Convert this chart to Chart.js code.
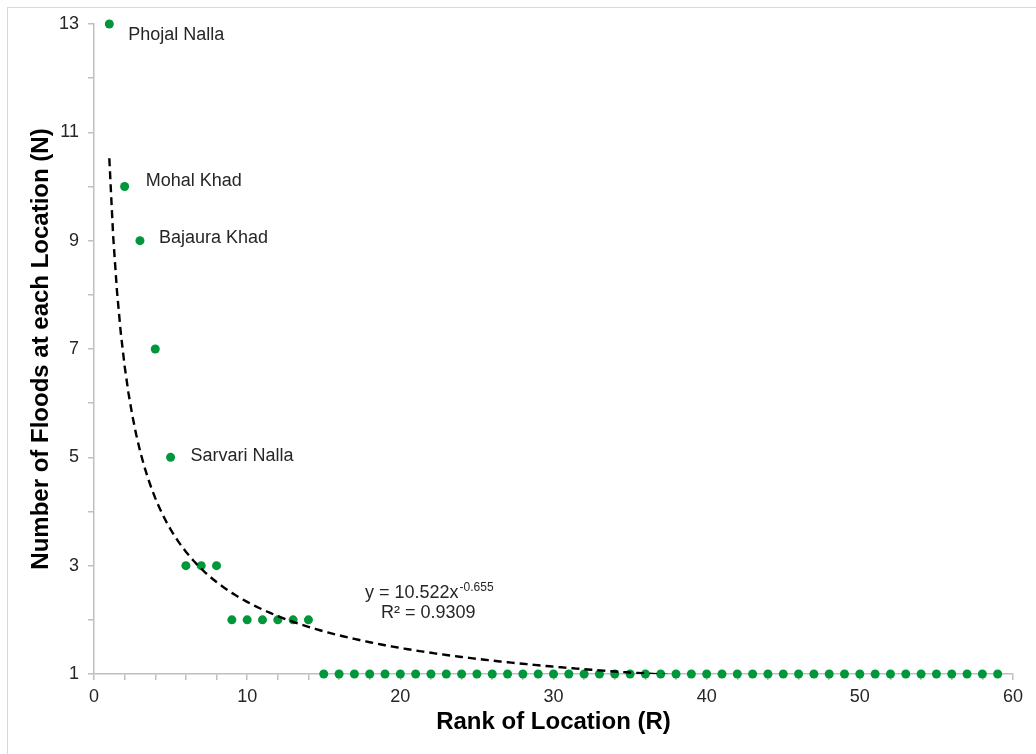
<!DOCTYPE html>
<html>
<head>
<meta charset="utf-8">
<script src="https://cdn.jsdelivr.net/npm/chart.js@4.4.1/dist/chart.umd.min.js"></script>
<style>
  html, body { margin: 0; padding: 0; background: #ffffff; overflow: hidden; }
  #frame { position: absolute; left: 7px; top: 7px; width: 1200px; height: 900px; border: 1.5px solid #d9d9d9; box-sizing: border-box; }
  #wrap { position: absolute; left: 0; top: 0; width: 1036px; height: 754px; }
</style>
</head>
<body>
<div id="frame"></div>
<div id="wrap"><canvas id="c" width="1036" height="754"></canvas></div>
<script>
// ---- data ----
const ranks = [1,2,3,4,5,6,7,8,9,10,11,12,13,14,15,16,17,18,19,20,21,22,23,24,25,26,27,28,29,30,
               31,32,33,34,35,36,37,38,39,40,41,42,43,44,45,46,47,48,49,50,51,52,53,54,55,56,57,58,59];
const floods = [13,10,9,7,5,3,3,3,2,2,2,2,2,2,1,1,1,1,1,1,1,1,1,1,1,1,1,1,1,1,
                1,1,1,1,1,1,1,1,1,1,1,1,1,1,1,1,1,1,1,1,1,1,1,1,1,1,1,1,1];
const labelIndex = [0, 1, 2, 4];
const labelNames = ["Phojal Nalla", "Mohal Khad", "Bajaura Khad", "Sarvari Nalla"];
const eqText = "y = 10.522x";
const eqExp = "-0.655";
const r2Text = "R\u00B2 = 0.9309";
const xTitle = "Rank of Location (R)";
const yTitle = "Number of Floods at each Location (N)";

// power-law least-squares fit on the data (ln y = ln a + b ln x)
function powerFit(xs, ys) {
  const n = xs.length;
  let sx = 0, sy = 0, sxx = 0, sxy = 0;
  for (let i = 0; i < n; i++) {
    const lx = Math.log(xs[i]), ly = Math.log(ys[i]);
    sx += lx; sy += ly; sxx += lx * lx; sxy += lx * ly;
  }
  const b = (n * sxy - sx * sy) / (n * sxx - sx * sx);
  const a = Math.exp((sy - b * sx) / n);
  return { a, b };
}
const fit = powerFit(ranks, floods);
const trend = [];
for (let x = ranks[0]; x <= ranks[ranks.length - 1] + 1e-9; x += 0.25) {
  trend.push({ x: x, y: fit.a * Math.pow(x, fit.b) });
}
const points = ranks.map((r, i) => ({ x: r, y: floods[i] }));

const FONT = "'Liberation Sans', Arial, sans-serif";
const GREEN = '#00963a';
const AXIS = '#bfbfbf';

const labelsPlugin = {
  id: 'pointLabels',
  afterDatasetsDraw(chart) {
    const ctx = chart.ctx;
    const xs = chart.scales.x, ys = chart.scales.y;
    ctx.save();
    ctx.fillStyle = '#262626';
    ctx.font = '18px ' + FONT;
    ctx.textBaseline = 'middle';
    ctx.textAlign = 'left';
    const offs = [[19, 11], [21, -5], [19, -3], [20, -1]];
    labelIndex.forEach((idx, k) => {
      const px = xs.getPixelForValue(ranks[idx]);
      const py = ys.getPixelForValue(floods[idx]);
      ctx.fillText(labelNames[k], px + offs[k][0], py + offs[k][1]);
    });
    // trendline equation
    const ca = chart.chartArea;
    const ex = ca.left + 271, ey = ca.top + 569;
    ctx.fillText(eqText, ex, ey);
    const w = ctx.measureText(eqText).width;
    ctx.font = '12px ' + FONT;
    ctx.fillText(eqExp, ex + w + 1, ey - 5);
    ctx.font = '18px ' + FONT;
    ctx.fillText(r2Text, ca.left + 287, ca.top + 589);
    ctx.restore();
  }
};

new Chart(document.getElementById('c'), {
  type: 'scatter',
  data: {
    datasets: [
      {
        type: 'line',
        data: trend,
        borderColor: '#000000',
        borderWidth: 2.4,
        borderDash: [8, 5],
        pointRadius: 0,
        fill: false,
        tension: 0,
        order: 0
      },
      {
        data: points,
        backgroundColor: GREEN,
        borderColor: GREEN,
        borderWidth: 0,
        pointRadius: 4.5,
        pointHoverRadius: 4.5,
        clip: false,
        order: 1
      }
    ]
  },
  options: {
    responsive: false,
    animation: false,
    devicePixelRatio: 1,
    layout: { padding: { left: 0, right: 23, top: 24, bottom: 0 } },
    plugins: { legend: { display: false }, tooltip: { enabled: false } },
    scales: {
      x: {
        type: 'linear',
        min: 0, max: 60,
        afterFit: s => { s.height = 80; },
        border: { color: AXIS, width: 1.5 },
        grid: { drawOnChartArea: false, drawTicks: true, tickLength: 6, color: AXIS, lineWidth: 1.5 },
        ticks: {
          stepSize: 2, autoSkip: false, maxRotation: 0, padding: 6,
          color: '#262626', font: { family: FONT, size: 18 },
          callback: v => (v % 10 === 0 ? String(v) : '')
        },
        title: {
          display: true, text: xTitle, color: '#000000',
          font: { family: FONT, size: 24, weight: 'bold', lineHeight: 1.2 },
          padding: { top: 0, bottom: 17 }
        }
      },
      y: {
        type: 'linear',
        min: 1, max: 13,
        afterFit: s => { s.width = 94; },
        border: { color: AXIS, width: 1.5 },
        grid: { drawOnChartArea: false, drawTicks: true, tickLength: 6, color: AXIS, lineWidth: 1.5 },
        ticks: {
          stepSize: 1, autoSkip: false, padding: 9,
          color: '#262626', font: { family: FONT, size: 18 },
          callback: v => (v % 2 === 1 ? String(v) : '')
        },
        title: {
          display: true, text: yTitle, color: '#000000',
          font: { family: FONT, size: 24, weight: 'bold', lineHeight: 1.2 },
          padding: { top: 27, bottom: 0 }
        }
      }
    }
  },
  plugins: [labelsPlugin]
});
</script>
</body>
</html>
